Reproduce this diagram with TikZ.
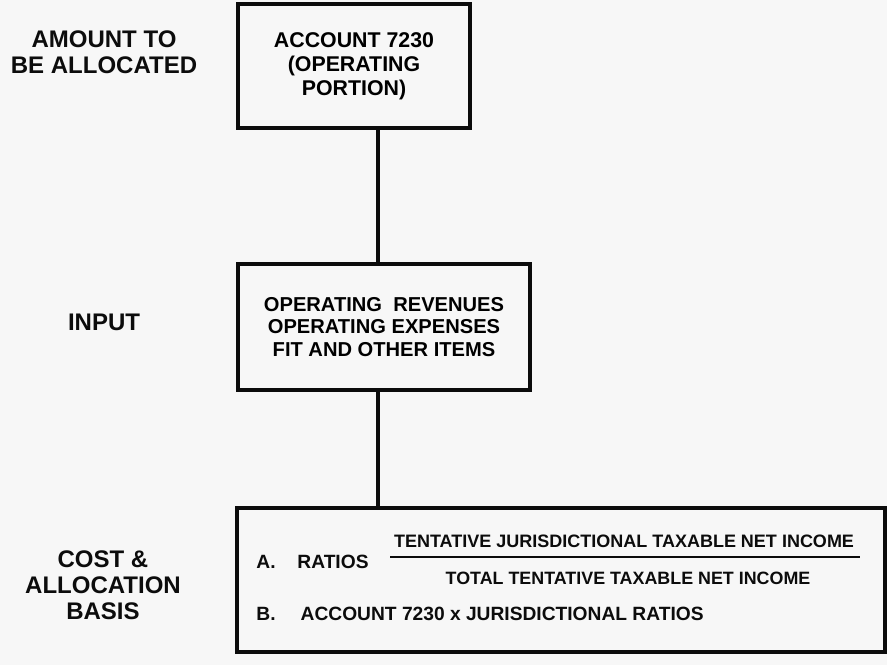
\documentclass[tikz,border=0pt]{standalone}
\usepackage{fontspec}
\setmainfont{Liberation Sans}
\usepackage{xcolor}
\usepackage{tikz}
\definecolor{paper}{RGB}{247,247,247}
\definecolor{ink}{RGB}{12,12,12}

\begin{document}
\begin{tikzpicture}[x=0.75pt,y=-0.75pt,
  stagebox/.style={draw=ink, line width=3pt, rectangle, align=center, inner sep=0pt},
  sidelabel/.style={align=center, font=\bfseries\fontsize{18}{19.5}\selectfont, text=ink},
  boxtext/.style={font=\bfseries\fontsize{14.4}{16}\selectfont, text=ink}]
\fill[paper] (0,0) rectangle (887,665);
\useasboundingbox (0,0) rectangle (887,665);
% left column
\node[sidelabel] (amount) at (104,52) {AMOUNT TO\\BE ALLOCATED};
\node[sidelabel] (input) at (104,322) {INPUT};
\node[sidelabel] (basis) at (103,585) {COST \&\\ALLOCATION\\BASIS};
% boxes
\node[stagebox, minimum width=174pt, minimum height=93pt,
  font=\bfseries\fontsize{16}{18}\selectfont] (account) at (354,66)
  {ACCOUNT 7230\\(OPERATING\\PORTION)};
\node[stagebox, minimum width=219pt, minimum height=94.5pt,
  font=\bfseries\fontsize{15.1}{17.2}\selectfont] (items) at (384,327)
  {OPERATING\ \ REVENUES\\OPERATING EXPENSES\\FIT AND OTHER ITEMS};
\node[stagebox, minimum width=486pt, minimum height=108pt] (ratios) at (561,580) {};
\coordinate (spine) at (378,0);
\draw[ink, line width=2.6pt] (account.south -| spine) -- (items.north -| spine);
\draw[ink, line width=2.6pt] (items.south -| spine) -- (ratios.north -| spine);
% inside the ratio box
\node[boxtext] (ra) at (266,562) {A.};
\node[boxtext] (rname) at (333,562) {RATIOS};
\node[boxtext, font=\bfseries\fontsize{13.5}{15}\selectfont] (num) at (624,541)
  {TENTATIVE JURISDICTIONAL TAXABLE NET INCOME};
\node[boxtext, font=\bfseries\fontsize{13.4}{15}\selectfont] (den) at (628,578)
  {TOTAL TENTATIVE TAXABLE NET INCOME};
\draw[ink, line width=2pt] (390,557) -- (860,557);
\node[boxtext] (rb) at (266,614) {B.};
\node[boxtext, anchor=west] (acct) at (296,614) {ACCOUNT 7230 x JURISDICTIONAL RATIOS};
\end{tikzpicture}
\end{document}
